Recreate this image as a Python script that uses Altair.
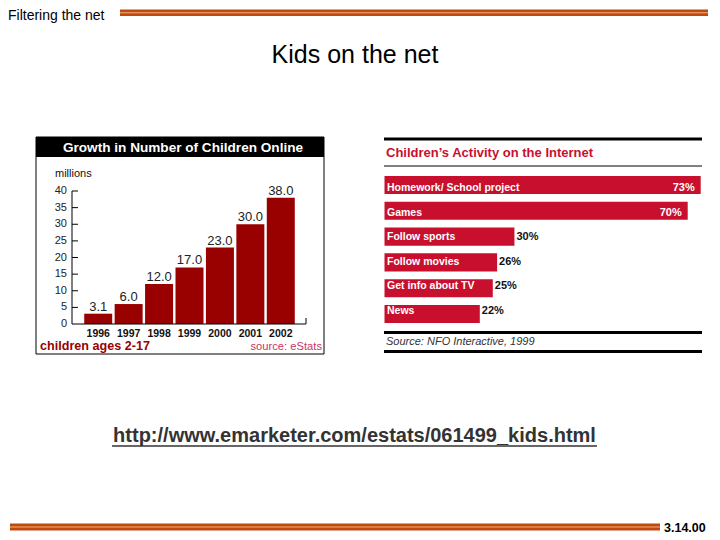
import altair as alt
import pandas as pd

# ---------------- data ----------------
years = ["1996", "1997", "1998", "1999", "2000", "2001", "2002"]
children_millions = [3.1, 6.0, 12.0, 17.0, 23.0, 30.0, 38.0]
y_ticks = [0, 5, 10, 15, 20, 25, 30, 35, 40]

activities = ["Homework/ School project", "Games", "Follow sports",
              "Follow movies", "Get info about TV", "News"]
activity_pct = [73, 70, 30, 26, 25, 22]

slide_title = "Filtering the net"
heading = "Kids on the net"
left_title = "Growth in Number of Children Online"
left_unit = "millions"
left_note = "children ages 2-17"
left_source = "source: eStats"
right_title = "Children\u2019s Activity on the Internet"
right_source = "Source: NFO Interactive, 1999"
url = "http://www.emarketer.com/estats/061499_kids.html"
slide_no = "3.14.00"

# ---------------- helpers ----------------
SANS = "Liberation Sans, Arial, Helvetica, sans-serif"
OFF = 8  # page margin


def px(v):
    return v - OFF


dummy = pd.DataFrame({"k": [0]})


def label(text, x, y, size, color="black", weight="normal", align="left",
          font=SANS, style="normal", baseline="middle"):
    return alt.Chart(dummy).mark_text(
        text=text, align=align, baseline=baseline, fontSize=size, font=font,
        fontWeight=weight, fontStyle=style, color=color
    ).encode(x=alt.value(px(x)), y=alt.value(px(y)))


def box(x1, y1, x2, y2, fill=None, stroke=None, sw=1):
    props = {}
    if fill is None:
        props["fillOpacity"] = 0
    else:
        props["fill"] = fill
    if stroke is not None:
        props["stroke"] = stroke
        props["strokeWidth"] = sw
    return alt.Chart(dummy).mark_rect(**props).encode(
        x=alt.value(px(x1)), x2=alt.value(px(x2)),
        y=alt.value(px(y1)), y2=alt.value(px(y2)))


def hline(x1, x2, y, color="black", sw=1):
    return alt.Chart(dummy).mark_rule(color=color, strokeWidth=sw).encode(
        x=alt.value(px(x1)), x2=alt.value(px(x2)), y=alt.value(px(y)))


def vline(x, y1, y2, color="black", sw=1):
    return alt.Chart(dummy).mark_rule(color=color, strokeWidth=sw).encode(
        x=alt.value(px(x)), y=alt.value(px(y1)), y2=alt.value(px(y2)))


BAR_ORANGE = "#BF4A10"
STRIPE = "#F2B27A"

layers = []

# ---------------- slide frame ----------------
layers += [
    label(slide_title, 8, 15.5, 14, color="black"),
    box(120, 9.5, 708, 16, fill=BAR_ORANGE),
    hline(120, 708, 12.75, color=STRIPE, sw=1),
    label(heading, 355, 55, 25, align="center"),
    box(10, 523.5, 660, 530.5, fill=BAR_ORANGE),
    hline(10, 660, 527, color=STRIPE, sw=1),
    label(slide_no, 664, 527.5, 12.5, weight="bold", align="left"),
    label(url, 354.5, 436, 20, color="#333333", weight="bold", align="center"),
    hline(112, 597, 446, color="#333333", sw=1.5),
]

# ---------------- left chart: growth of children online ----------------
df_years = pd.DataFrame({"year": years, "millions": children_millions})
df_ticks = pd.DataFrame({"tick": y_ticks})
df_span = pd.DataFrame({"lo": [y_ticks[0]], "hi": [y_ticks[-1]]})

yl = alt.Scale(domain=[0, 40], range=[px(324), px(191)], nice=False, zero=True)
xl = alt.Scale(domain=years, range=[px(83), px(296)], paddingInner=0.08, paddingOuter=0.04)

layers += [
    box(36, 137, 324, 354, stroke="black", sw=1),
    box(36, 137, 324, 157, fill="black"),
    label(left_title, 183, 147.5, 13.6, color="white", weight="bold", align="center"),
    label(left_unit, 55, 174, 11, color="#111111"),
    alt.Chart(df_years).mark_bar(color="#990000").encode(
        x=alt.X("year:N", scale=xl, axis=None),
        y=alt.Y("millions:Q", scale=yl, axis=None)),
    alt.Chart(df_years).mark_text(fontSize=13, font=SANS, color="#222222",
                                  baseline="alphabetic", dy=-3).encode(
        x=alt.X("year:N", scale=xl, axis=None),
        y=alt.Y("millions:Q", scale=yl, axis=None),
        text=alt.Text("millions:Q", format=".1f")),
    alt.Chart(df_years).mark_text(fontSize=10.5, font=SANS, fontWeight="bold",
                                  color="#111111", baseline="middle").encode(
        x=alt.X("year:N", scale=xl, axis=None),
        y=alt.value(px(333.5)),
        text="year:N"),
    # y axis line
    alt.Chart(df_span).mark_rule(color="black").encode(
        x=alt.value(px(72)),
        y=alt.Y("lo:Q", scale=yl, axis=None), y2="hi:Q"),
    # ticks
    alt.Chart(df_ticks).transform_filter("datum.tick > 0").mark_rule(color="black").encode(
        x=alt.value(px(72)), x2=alt.value(px(78)),
        y=alt.Y("tick:Q", scale=yl, axis=None)),
    alt.Chart(df_ticks).mark_text(align="right", baseline="middle", fontSize=11,
                                  font=SANS, color="#222222").encode(
        x=alt.value(px(67)),
        y=alt.Y("tick:Q", scale=yl, axis=None),
        text="tick:Q"),
    # x axis line
    alt.Chart(df_span).mark_rule(color="black").encode(
        x=alt.value(px(72)), x2=alt.value(px(306)),
        y=alt.Y("lo:Q", scale=yl, axis=None)),
    vline(306, 318, 324),
    label(left_note, 40, 346, 12.6, color="#990000", weight="bold"),
    label(left_source, 322, 347, 11.2, color="#CC3366", align="right"),
]

# ---------------- right chart: children's activity ----------------
df_act = pd.DataFrame({"activity": activities, "pct": activity_pct})
CRIMSON = "#C8102E"
xr = alt.Scale(domain=[0, 73], range=[px(384.5), px(700.7)], nice=False, zero=True)
yr = alt.Scale(domain=activities, range=[px(176), px(323)], paddingInner=0.3, paddingOuter=0)

act = alt.Chart(df_act).transform_calculate(lbl="datum.pct + '%'")

layers += [
    box(384, 137.5, 702, 140.5, fill="black"),
    label(right_title, 386, 153, 13, color=CRIMSON, weight="bold"),
    hline(384, 702, 166, color="black", sw=1),
    act.mark_bar(color=CRIMSON).encode(
        x=alt.X("pct:Q", scale=xr, axis=None),
        y=alt.Y("activity:N", scale=yr, axis=None)),
    act.mark_text(align="left", baseline="middle", fontSize=10.5, font=SANS,
                  fontWeight="bold", color="white").encode(
        x=alt.value(px(387)),
        y=alt.Y("activity:N", scale=yr, axis=None),
        text="activity:N"),
    act.transform_filter("datum.pct >= 50").mark_text(
        align="right", baseline="middle", fontSize=11, font=SANS,
        fontWeight="bold", color="white", dx=-6).encode(
        x=alt.X("pct:Q", scale=xr, axis=None),
        y=alt.Y("activity:N", scale=yr, axis=None),
        text="lbl:N"),
    act.transform_filter("datum.pct < 50").mark_text(
        align="left", baseline="middle", fontSize=11, font=SANS,
        fontWeight="bold", color="#111111", dx=2).encode(
        x=alt.X("pct:Q", scale=xr, axis=None),
        y=alt.Y("activity:N", scale=yr, axis=None),
        text="lbl:N"),
    box(384, 331, 702, 334, fill="black"),
    label(right_source, 386, 341.5, 11, color="#333333", style="italic"),
    box(384, 350, 702, 353, fill="black"),
]

chart = alt.layer(*layers).resolve_scale(
    x="independent", y="independent"
).properties(
    width=704, height=530,
    autosize=alt.AutoSizeParams(type="none"),
    padding=0,
    background="white",
).configure_view(stroke=None)

chart.save("out.html", embed_options={"renderer": "svg", "actions": False})
